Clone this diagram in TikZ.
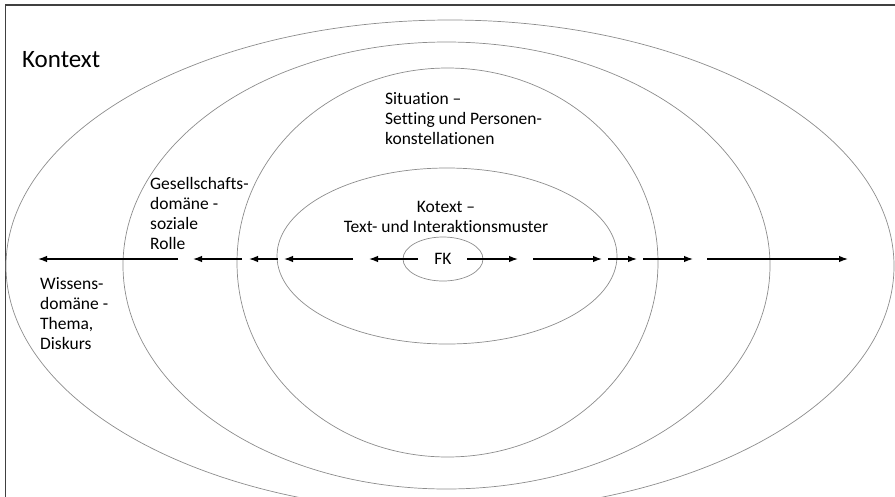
\documentclass[tikz,border=0pt]{standalone}
\usepackage{fontspec}
\setmainfont{Carlito}[Ligatures={TeX,NoCommon}]
\usetikzlibrary{shapes.geometric,
                arrows.meta,
                positioning}
\tikzset{domain-ring/.style =
   {ellipse,
    draw=black!45,
    line width=0.7pt,
    inner sep=0pt}}
\tikzset{domain-text/.style =
   {align=left,
    inner sep=0pt,
    anchor=north west,
    font=\fontsize{17.5}{20}\selectfont}}
\tikzset{arrow/.style = {draw, line width=1.3pt, -{Latex[length=9pt, width=6.5pt]}}}

\begin{document}
\begin{tikzpicture}[x=1pt, y=-1pt]

    \useasboundingbox (0,0) rectangle (895,496);
    \clip (0,0) rectangle (895,496);

    % frame (only left and top edge visible)
    \coordinate (frame-bl) at (5.5,500);
    \coordinate (frame-tl) at (5.5,5);
    \coordinate (frame-tr) at (900,5);
    \draw [black!75, line width=1.8pt] (frame-bl) -- (frame-tl) -- (frame-tr);

    % nested domains
    \node [domain-ring,
           minimum width=888pt,
           minimum height=492pt] (wissens) at (450,266) {};
    \node [domain-ring,
           minimum width=647pt,
           minimum height=447pt] (gesellschaft) at (446.5,265.5) {};
    \node [domain-ring,
           minimum width=421pt,
           minimum height=389pt] (situation) at (447.5,262.5) {};
    \node [domain-ring,
           minimum width=340pt,
           minimum height=176pt] (kotext) at (447,256) {};
    \node [domain-ring,
           minimum width=80pt,
           minimum height=44pt] (fk) at (443,259) {};

    % labels
    \node [domain-text,
           font=\fontsize{25}{30}\selectfont] (kontext-text) at (22,51) {Kontext};
    \node [domain-text] (situation-text) at (385,92)
          {Situation –\\Setting und Personen-\\konstellationen};
    \node [domain-text] (gesellschaft-text) at (150,177)
          {Gesellschafts-\\domäne -\\soziale\\Rolle};
    \node [domain-text] (wissens-text) at (40,277)
          {Wissens-\\domäne -\\Thema,\\Diskurs};
    \node [domain-text,
           align=center,
           anchor=north] (kotext-text) at (446,201)
          {Kotext –\\Text- und Interaktionsmuster};
    \node [font=\fontsize{17.5}{20}\selectfont] (fk-text) at (fk) {FK};

    % arrows outwards from FK
    \foreach \from/\to [count=\i] in {178/38, 242/193, 278/249, 353/284, 418/369,
                                      467/518, 533/602, 608/637, 643/693, 707/848} {
        \coordinate (tail\i) at (\from,259);
        \coordinate (head\i) at (\to,259);
        \draw [arrow] (tail\i) -- (head\i);
    }

\end{tikzpicture}
\end{document}
